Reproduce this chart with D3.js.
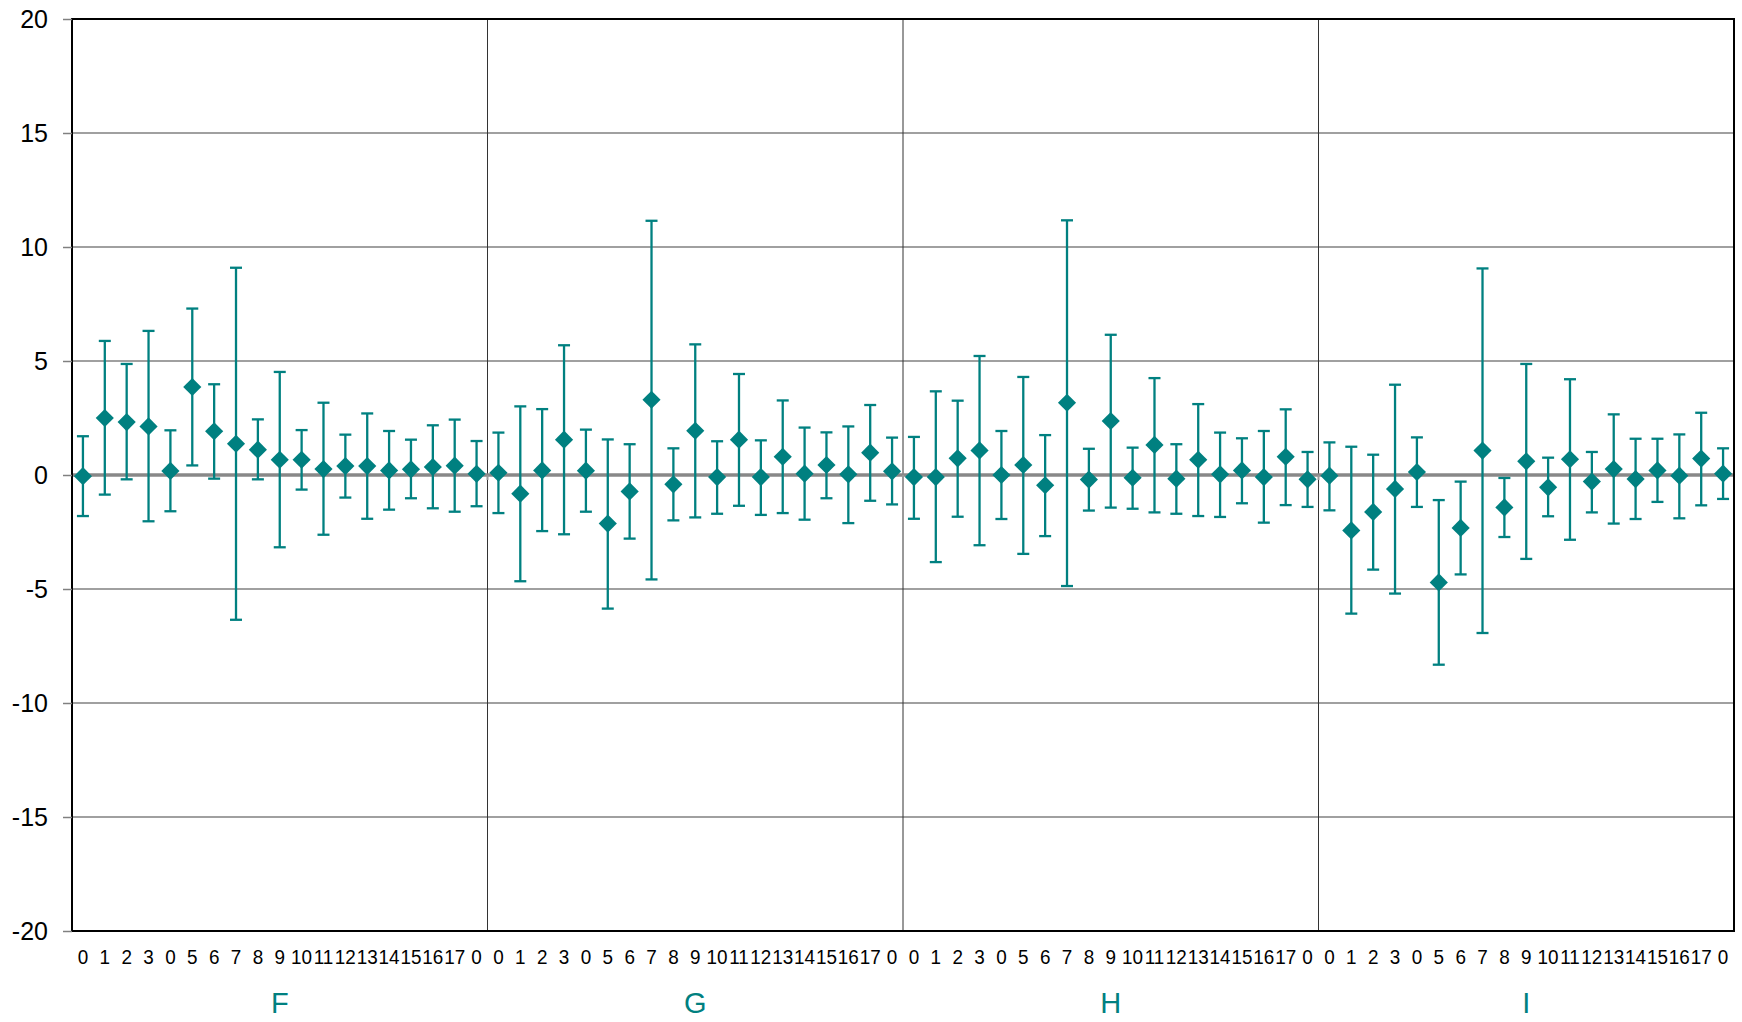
<!doctype html>
<html lang="en">
<head>
    <meta charset="UTF-8">
    <title>error bars</title>
    <script src="https://d3js.org/d3.v7.min.js"></script>
    <style>
        body { margin: 0; background: #fff; }
        text { font-family: "Liberation Sans", Arial, sans-serif; }
    </style>
</head>
<body>
<script>
  var groups = ["F", "G", "H", "I"];
  var subLabels = ["0","1","2","3","0","5","6","7","8","9","10","11","12","13","14","15","16","17","0"];
  var yTicks = [-20, -15, -10, -5, 0, 5, 10, 15, 20];

  var fMean = [-0.05, 2.5, 2.32, 2.13, 0.18, 3.86, 1.92, 1.37, 1.11, 0.67, 0.67, 0.26, 0.39, 0.39, 0.2, 0.25, 0.35, 0.41, 0.05];
  var fHigh = [1.7, 5.88, 4.87, 6.32, 1.96, 7.3, 3.98, 9.09, 2.44, 4.52, 1.97, 3.17, 1.77, 2.7, 1.93, 1.55, 2.18, 2.43, 1.49];
  var fLow  = [-1.8, -0.86, -0.19, -2.03, -1.59, 0.42, -0.16, -6.35, -0.19, -3.17, -0.64, -2.62, -0.99, -1.92, -1.52, -1.02, -1.46, -1.61, -1.37];

  var gMean = [0.1, -0.82, 0.2, 1.55, 0.19, -2.13, -0.72, 3.3, -0.41, 1.94, -0.09, 1.55, -0.09, 0.8, 0.06, 0.44, 0.03, 0.98, 0.16];
  var gHigh = [1.86, 3.01, 2.89, 5.69, 1.99, 1.56, 1.35, 11.15, 1.17, 5.73, 1.48, 4.43, 1.52, 3.27, 2.08, 1.87, 2.13, 3.07, 1.64];
  var gLow  = [-1.67, -4.66, -2.46, -2.6, -1.61, -5.86, -2.79, -4.58, -1.99, -1.86, -1.7, -1.35, -1.75, -1.67, -1.96, -1.02, -2.11, -1.13, -1.29];

  var hMean = [-0.09, -0.09, 0.73, 1.08, 0.0, 0.44, -0.45, 3.17, -0.2, 2.37, -0.12, 1.32, -0.16, 0.67, 0.03, 0.2, -0.09, 0.8, -0.19];
  var hHigh = [1.67, 3.67, 3.26, 5.22, 1.93, 4.3, 1.75, 11.17, 1.15, 6.15, 1.2, 4.25, 1.35, 3.11, 1.86, 1.61, 1.93, 2.88, 1.01];
  var hLow  = [-1.92, -3.82, -1.83, -3.08, -1.93, -3.46, -2.68, -4.87, -1.56, -1.43, -1.48, -1.64, -1.7, -1.8, -1.84, -1.24, -2.09, -1.32, -1.4];

  var iMean = [-0.03, -2.43, -1.62, -0.61, 0.13, -4.71, -2.32, 1.07, -1.42, 0.6, -0.54, 0.69, -0.29, 0.26, -0.18, 0.2, -0.03, 0.72, 0.06];
  var iHigh = [1.43, 1.24, 0.89, 3.96, 1.65, -1.1, -0.29, 9.06, -0.13, 4.87, 0.76, 4.2, 1.01, 2.66, 1.59, 1.59, 1.78, 2.73, 1.17];
  var iLow  = [-1.55, -6.08, -4.15, -5.2, -1.4, -8.32, -4.36, -6.93, -2.72, -3.68, -1.81, -2.84, -1.64, -2.13, -1.93, -1.18, -1.9, -1.33, -1.05];

  var series = [[fMean, fHigh, fLow], [gMean, gHigh, gLow], [hMean, hHigh, hLow], [iMean, iHigh, iLow]];

  // flat rows for drawing
  var data = [];
  groups.forEach(function(g, gi) {
    subLabels.forEach(function(lab, i) {
      data.push({key: g + "-" + i, group: g, label: lab,
                 mean: series[gi][0][i], high: series[gi][1][i], low: series[gi][2][i]});
    });
  });

  var width = 1742, height = 1022;
  var plotLeft = 72, plotRight = 1734, plotTop = 19, plotBottom = 931;
  var teal = "#008080";

  var svg = d3.select("body").append("svg")
      .attr("width", width)
      .attr("height", height);

  var x = d3.scaleBand()
      .domain(data.map(function(d) { return d.key; }))
      .range([plotLeft, plotRight])
      .padding(0);

  var y = d3.scaleLinear()
      .domain([-20, 20])
      .range([plotBottom, plotTop]);

  // horizontal grid
  svg.append("g")
      .selectAll("line")
      .data(yTicks.filter(function(t) { return t !== 0 && t !== -20 && t !== 20; }))
      .join("line")
      .attr("x1", plotLeft).attr("x2", plotRight)
      .attr("y1", function(d) { return y(d); })
      .attr("y2", function(d) { return y(d); })
      .attr("stroke", "#808080")
      .attr("stroke-width", 1.3);

  // group separators
  svg.append("g")
      .selectAll("line")
      .data(groups.slice(1))
      .join("line")
      .attr("x1", function(g) { return x(g + "-0"); })
      .attr("x2", function(g) { return x(g + "-0"); })
      .attr("y1", plotTop).attr("y2", plotBottom)
      .attr("stroke", "#333")
      .attr("stroke-width", 1);

  // zero line + small ticks at group boundaries
  svg.append("line")
      .attr("x1", plotLeft).attr("x2", plotRight)
      .attr("y1", y(0)).attr("y2", y(0))
      .attr("stroke", "#888")
      .attr("stroke-width", 3.3);

  svg.append("g")
      .selectAll("line")
      .data(groups)
      .join("line")
      .attr("x1", function(g) { return x(g + "-0"); })
      .attr("x2", function(g) { return x(g + "-0"); })
      .attr("y1", y(0)).attr("y2", y(0) + 5)
      .attr("stroke", "#999")
      .attr("stroke-width", 2);

  // error bars
  var bw = x.bandwidth();
  var bars = svg.append("g").attr("stroke", teal).attr("stroke-width", 2.3);

  bars.selectAll(".stem")
      .data(data)
      .join("line")
      .attr("class", "stem")
      .attr("x1", function(d) { return x(d.key) + bw / 2; })
      .attr("x2", function(d) { return x(d.key) + bw / 2; })
      .attr("y1", function(d) { return y(d.high); })
      .attr("y2", function(d) { return y(d.low); });

  ["high", "low"].forEach(function(k) {
    bars.selectAll(".cap-" + k)
        .data(data)
        .join("line")
        .attr("class", "cap-" + k)
        .attr("x1", function(d) { return x(d.key) + bw / 2 - 6; })
        .attr("x2", function(d) { return x(d.key) + bw / 2 + 6; })
        .attr("y1", function(d) { return y(d[k]); })
        .attr("y2", function(d) { return y(d[k]); });
  });

  // diamonds
  var diamond = d3.symbol().type(d3.symbolSquare).size(165);
  svg.append("g")
      .selectAll("path")
      .data(data)
      .join("path")
      .attr("d", diamond)
      .attr("transform", function(d) {
        return "translate(" + (x(d.key) + bw / 2) + "," + y(d.mean) + ") rotate(45)";
      })
      .attr("fill", teal);

  // plot border
  svg.append("rect")
      .attr("x", plotLeft).attr("y", plotTop)
      .attr("width", plotRight - plotLeft).attr("height", plotBottom - plotTop)
      .attr("fill", "none")
      .attr("stroke", "#000")
      .attr("stroke-width", 2);

  // y axis
  var axisY = d3.axisLeft(y)
      .tickValues(yTicks)
      .tickFormat(function(d) { return String(d); })
      .tickSize(9)
      .tickPadding(15);

  var gy = svg.append("g")
      .attr("transform", "translate(" + plotLeft + ",0)")
      .call(axisY);
  gy.select(".domain").remove();
  gy.selectAll(".tick line").attr("stroke", "#808080").attr("stroke-width", 1.5);
  gy.selectAll("text")
      .attr("fill", "#000")
      .style("font-size", "25px")
      .style("font-family", "'Liberation Sans', Arial, sans-serif");

  // x axis (sub labels)
  var axisX = d3.axisBottom(x)
      .tickSize(0)
      .tickFormat(function(k) { return subLabels[+k.split("-")[1]]; });

  var gx = svg.append("g")
      .attr("transform", "translate(0," + plotBottom + ")")
      .call(axisX);
  gx.select(".domain").remove();
  gx.selectAll("text")
      .attr("y", 33)
      .attr("dy", 0)
      .attr("transform", "scale(0.9,1)")
      .attr("fill", "#000")
      .style("font-size", "21px")
      .style("font-family", "'Liberation Sans', Arial, sans-serif");

  // group labels
  svg.append("g")
      .selectAll("text")
      .data(groups)
      .join("text")
      .attr("x", function(g) { return (x(g + "-0") + x(g + "-18") + bw) / 2; })
      .attr("y", 1013)
      .attr("text-anchor", "middle")
      .attr("fill", teal)
      .style("font-size", "29px")
      .text(function(g) { return g; });
</script>
</body>
</html>
